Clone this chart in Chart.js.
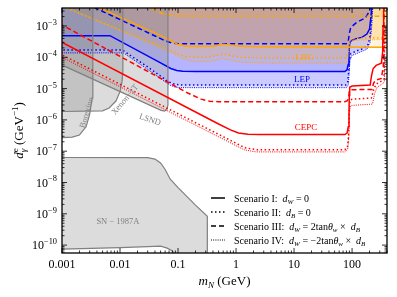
<!DOCTYPE html>
<html>
<head>
<meta charset="utf-8">
<script src="https://cdn.jsdelivr.net/npm/chart.js@4.4.1/dist/chart.umd.min.js"></script>
<style>
html, body { margin: 0; padding: 0; background: #fff; }
#wrap { width: 397px; height: 297px; }
</style>
</head>
<body>
<div id="wrap"><canvas id="Grafico" width="397" height="297"></canvas></div>
<script>
'use strict';
// axes: m_N (GeV) on x, d_gamma^e (GeV^-1) on y, both log
const X_MIN = 0.001, X_MAX = 400;
const Y_MIN = 5.6e-11, Y_MAX = 3.75e-3;
const xTickValues = [0.001, 0.01, 0.1, 1, 10, 100];
const xTickLabels = ['0.001', '0.01', '0.1', '1', '10', '100'];
const yTickPowers = [-10, -9, -8, -7, -6, -5, -4, -3];

// grey excluded regions
const borexinoX = [0.0009, 0.0015, 0.002, 0.0026, 0.003, 0.0033, 0.0034, 0.0034];
const borexinoY = [2.7e-7, 2.8e-7, 3.3e-7, 6e-7, 1.5e-6, 5e-6, 1.5e-5, 1e-2];
const xenonX = [0.0009, 0.005, 0.0065, 0.0085, 0.01, 0.0108, 0.0112, 0.0112];
const xenonY = [1.85e-6, 1.95e-6, 2.4e-6, 4e-6, 8e-6, 1.6e-5, 3.5e-5, 1e-2];
const lsndX = [0.0009, 0.05, 0.058, 0.064, 0.067, 0.067];
const lsndY = [6.2e-5, 2.05e-6, 1.9e-6, 2.1e-6, 3e-6, 1e-2];
const snX = [0.0009, 0.03, 0.04, 0.05, 0.06, 0.073, 0.1, 0.2, 0.32, 0.32, 0.1, 0.08, 0.065, 0.05, 0.03, 0.01, 0.0009];
const snY = [6.3e-8, 6.2e-8, 5.6e-8, 4.2e-8, 2.6e-8, 1.3e-8, 6.9e-9, 1.9e-9, 8.3e-10, 1e-11, 3e-11, 6.5e-11, 8e-11, 9.3e-11, 9e-11, 8.3e-11, 7.4e-11];

// LEP (blue), scenarios I..IV
const lepIX = [0.0009, 0.0067, 0.05, 0.075, 0.095, 0.12, 0.2, 75, 82, 86, 88.5, 90.5, 95, 110, 150, 180, 200, 212, 222];
const lepIY = [4.9e-4, 4.9e-4, 6.6e-5, 4.4e-5, 3.8e-5, 3.6e-5, 3.5e-5, 3.5e-5, 4e-5, 6e-5, 1.3e-4, 2.6e-4, 3.3e-4, 3.8e-4, 4.4e-4, 5.5e-4, 8e-4, 2e-3, 8e-3];
const lepIIX = [0.0009, 0.011, 0.03, 0.05, 0.07, 0.09, 0.12, 78, 84, 87.5, 90, 95, 120, 160, 190, 205, 215, 225];
const lepIIY = [1.7e-4, 1.7e-4, 4.9e-5, 2.5e-5, 1.6e-5, 1.35e-5, 1.3e-5, 1.3e-5, 1.6e-5, 3.5e-5, 8e-5, 1.3e-4, 1.6e-4, 1.9e-4, 2.6e-4, 5e-4, 1.5e-3, 6e-3];
const lepIIIX = [0.002, 0.0045, 0.04, 0.06, 0.08, 0.1, 0.15, 80, 86, 90, 95, 120, 170, 200, 215];
const lepIIIY = [6.5e-3, 3.2e-3, 4.8e-4, 3.35e-4, 2.85e-4, 2.72e-4, 2.7e-4, 2.7e-4, 3.2e-4, 6e-4, 9e-4, 1.3e-3, 1.8e-3, 3e-3, 8e-3];
const lepIVX = [0.0009, 0.0115, 0.03, 0.05, 0.07, 0.09, 0.12, 80, 86, 89, 92, 100, 130, 180, 205, 218, 230];
const lepIVY = [1.38e-4, 1.38e-4, 4.1e-5, 2.1e-5, 1.33e-5, 1.1e-5, 1.07e-5, 1.07e-5, 1.3e-5, 3e-5, 8e-5, 1.15e-4, 1.4e-4, 1.8e-4, 3e-4, 1e-3, 5e-3];

// LHC (orange)
const lhcIX = [0.002, 0.0045, 0.05, 0.08, 0.1, 0.14, 0.2, 0.4, 0.6, 1.0, 1.5, 3, 400];
const lhcIY = [7.3e-3, 3.7e-3, 4.9e-4, 3.2e-4, 2.55e-4, 2.25e-4, 2.2e-4, 2.25e-4, 2.6e-4, 2.35e-4, 2.2e-4, 2.15e-4, 2.1e-4];
const lhcIIX = [0.0012, 0.0015, 0.03, 0.073, 0.1, 0.13, 0.3, 0.6, 1.2, 3, 80, 86, 90, 95, 150, 400];
const lhcIIY = [3.66e-3, 3.1e-3, 3.3e-4, 1.68e-4, 1.25e-4, 1.05e-4, 1.0e-4, 1.25e-4, 1.0e-4, 9.5e-5, 9.5e-5, 1.4e-4, 3e-4, 3.9e-4, 4.1e-4, 4.2e-4];
const lhcIIIX = [0.02, 0.04, 0.06, 0.09, 0.2, 400];
const lhcIIIY = [6e-3, 3.2e-3, 2.3e-3, 2.1e-3, 2.05e-3, 2.05e-3];
const lhcIVX = [0.0015, 0.002, 0.03, 0.08, 0.12, 0.18, 0.35, 0.6, 1.2, 3, 80, 86, 90, 95, 150, 400];
const lhcIVY = [3.26e-3, 2.6e-3, 3e-4, 1.36e-4, 9e-5, 7.4e-5, 7.2e-5, 9e-5, 7e-5, 6.5e-5, 6.5e-5, 1e-4, 2.5e-4, 3.4e-4, 3.6e-4, 3.7e-4];

// CEPC (red)
const cepcIX = [0.0009, 0.5, 0.8, 1.1, 1.6, 2.5, 75, 82, 86, 88.5, 89.5, 91, 100, 205, 215, 230, 260, 320, 337, 342, 350];
const cepcIY = [3.33e-4, 7.4e-7, 4.8e-7, 3.8e-7, 3.45e-7, 3.4e-7, 3.4e-7, 3.8e-7, 6e-7, 1.5e-6, 6e-6, 1.1e-5, 1.2e-5, 1.3e-5, 2.4e-5, 4.3e-5, 5.5e-5, 6.5e-5, 1.5e-4, 1e-3, 8e-3];
const cepcIIX = [0.0009, 1.0, 1.4, 2.2, 75, 83, 87, 89.5, 92, 100, 215, 235, 260, 300, 355, 365];
const cepcIIY = [1.32e-4, 1.8e-7, 1.3e-7, 1.12e-7, 1.12e-7, 1.3e-7, 3e-7, 2e-6, 4.2e-6, 4.6e-6, 5e-6, 9e-6, 1.4e-5, 1.6e-5, 2e-5, 1e-3];
const cepcIIIX = [0.0009, 0.15, 0.25, 0.35, 0.5, 75, 83, 87, 89.5, 92, 100, 220, 235, 260, 320, 345, 352, 360];
const cepcIIIY = [1.19e-3, 7.1e-6, 4.6e-6, 3.95e-6, 3.8e-6, 3.8e-6, 4.1e-6, 5e-6, 8e-6, 9e-6, 9.2e-6, 9.4e-6, 1.5e-5, 1.9e-5, 2.1e-5, 5e-5, 1e-3, 8e-3];
const cepcIVX = [0.0009, 1.0, 1.4, 2.2, 75, 84, 88, 90, 93, 100, 225, 245, 270, 310, 360, 372];
const cepcIVY = [1.1e-4, 1.5e-7, 1.1e-7, 9.5e-8, 9.5e-8, 1.15e-7, 3e-7, 1.5e-6, 2.7e-6, 2.9e-6, 3.2e-6, 7e-6, 1.1e-5, 1.3e-5, 1.6e-5, 1e-3];

const SERIF = '"Liberation Serif", "DejaVu Serif", serif';
const BLUE = '#0000ff', RED = '#ff0000', ORANGE = '#ffa500', GREY = '#808080';
const BLUE_FILL = 'rgba(0,0,255,0.11)';
const ORANGE_FILL = 'rgba(255,165,0,0.12)';
const GREY_FILL = 'rgba(128,128,128,0.28)';

const STYLES = {
  I: { w: 1.5, dash: [] },
  II: { w: 1.5, dash: [1.5, 2.5] },
  III: { w: 1.5, dash: [5, 3] },
  IV: { w: 1.0, dash: [1, 1.2] }
};

function pts(xs, ys) { return xs.map((v, i) => ({ x: v, y: ys[i] })); }

// higher order = drawn earlier (blue fills first, then orange, then grey)
function lineSet(xs, ys, color, style, fillColor, order) {
  const st = STYLES[style];
  return {
    data: pts(xs, ys),
    borderColor: color,
    borderWidth: st.w,
    borderDash: st.dash,
    backgroundColor: fillColor || 'transparent',
    fill: fillColor ? 'end' : false,
    pointRadius: 0,
    tension: 0,
    clip: 0,
    order: order
  };
}

function regionSet(xs, ys, fillMode, order) {
  return {
    data: pts(xs, ys),
    borderColor: GREY,
    borderWidth: 1.2,
    backgroundColor: GREY_FILL,
    fill: fillMode,
    pointRadius: 0,
    tension: 0,
    clip: 0,
    order: order
  };
}

// text helpers
function N(t) { return { t: t }; }
function It(t) { return { t: t, it: true }; }
function Sub(t, noAdv) { return { t: t, it: true, sh: -1, noAdv: !!noAdv }; }
function Sup(t) { return { t: t, sh: 1 }; }
function fontOf(size, it) { return (it ? 'italic ' : '') + size + 'px ' + SERIF; }
function richWidth(ctx, parts, size) {
  let w = 0;
  for (const p of parts) {
    ctx.font = fontOf(p.sh ? size * 0.7 : size, p.it);
    if (!p.noAdv) w += ctx.measureText(p.t).width;
  }
  return w;
}
function drawRich(ctx, parts, x, y, size, align) {
  const w = richWidth(ctx, parts, size);
  let cx = align === 'center' ? x - w / 2 : align === 'right' ? x - w : x;
  ctx.textAlign = 'left';
  ctx.textBaseline = 'alphabetic';
  for (const p of parts) {
    ctx.font = fontOf(p.sh ? size * 0.7 : size, p.it);
    const dy = p.sh === -1 ? size * 0.25 : p.sh === 1 ? -size * 0.42 : 0;
    ctx.fillText(p.t, cx, y + dy);
    if (!p.noAdv) cx += ctx.measureText(p.t).width;
  }
}

const legendItems = [
  { style: 'I', parts: [N('Scenario I:  '), It('d'), Sub('W'), N(' = 0')] },
  { style: 'II', parts: [N('Scenario II:  '), It('d'), Sub('B'), N(' = 0')] },
  { style: 'III', parts: [N('Scenario III:  '), It('d'), Sub('W'), N(' = 2tan'), It('θ'), Sub('w'), N(' ×  '), It('d'), Sub('B')] },
  { style: 'IV', parts: [N('Scenario IV:  '), It('d'), Sub('W'), N(' = −2tan'), It('θ'), Sub('w'), N(' ×  '), It('d'), Sub('B')] }
];

const annotations = [
  { text: 'LHC', x: 15, y: 1.0e-4, color: ORANGE, angle: 0, size: 9 },
  { text: 'LEP', x: 13.7, y: 1.9e-5, color: BLUE, angle: 0, size: 9 },
  { text: 'CEPC', x: 16, y: 5.6e-7, color: RED, angle: 0, size: 9 },
  { text: 'LSND', x: 0.033, y: 1.0e-6, color: GREY, angle: 18, size: 8.5 },
  { text: 'Xenon−1T', x: 0.0122, y: 4.4e-6, color: GREY, angle: -50, size: 8.5 },
  { text: 'Borexino', x: 0.0027, y: 1.7e-6, color: GREY, angle: -73, size: 8.5 },
  { text: 'SN − 1987A', x: 0.0092, y: 5.7e-10, color: GREY, angle: 0, size: 8.5 }
];

const decor = {
  id: 'decor',
  afterDraw(chart) {
    const { ctx, chartArea: a, scales: { x, y } } = chart;
    ctx.save();
    // annotations
    for (const an of annotations) {
      ctx.save();
      ctx.translate(x.getPixelForValue(an.x), y.getPixelForValue(an.y));
      ctx.rotate(an.angle * Math.PI / 180);
      ctx.fillStyle = an.color;
      ctx.font = an.size + 'px ' + SERIF;
      ctx.textAlign = 'center';
      ctx.textBaseline = 'middle';
      ctx.fillText(an.text, 0, 0);
      ctx.restore();
    }
    // legend
    legendItems.forEach((it, i) => {
      const ly = 198 + i * 14;
      const st = STYLES[it.style];
      ctx.strokeStyle = '#000';
      ctx.lineWidth = st.w;
      ctx.setLineDash(st.dash);
      ctx.beginPath();
      ctx.moveTo(211, ly);
      ctx.lineTo(225, ly);
      ctx.stroke();
      ctx.setLineDash([]);
      ctx.fillStyle = '#000';
      drawRich(ctx, it.parts, 234, ly + 3.5, 10, 'left');
    });
    // ticks, inward on all sides
    ctx.strokeStyle = '#000';
    ctx.lineWidth = 0.8;
    const tick = (x1, y1, x2, y2) => { ctx.beginPath(); ctx.moveTo(x1, y1); ctx.lineTo(x2, y2); ctx.stroke(); };
    for (let p = -3; p <= 2; p++) {
      for (let m = 1; m <= 9; m++) {
        const v = m * Math.pow(10, p);
        if (v < X_MIN * 0.999 || v > X_MAX) continue;
        const px = x.getPixelForValue(v);
        const len = m === 1 ? 5 : 2.5;
        tick(px, a.bottom, px, a.bottom - len);
        tick(px, a.top, px, a.top + len);
      }
    }
    for (let p = -11; p <= -3; p++) {
      for (let m = 1; m <= 9; m++) {
        const v = m * Math.pow(10, p);
        if (v < Y_MIN || v > Y_MAX) continue;
        const py = y.getPixelForValue(v);
        const len = m === 1 ? 5 : 2.5;
        tick(a.left, py, a.left + len, py);
        tick(a.right, py, a.right - len, py);
      }
    }
    ctx.lineWidth = 1.3;
    ctx.strokeRect(a.left, a.top, a.right - a.left, a.bottom - a.top);
    // tick labels
    ctx.fillStyle = '#000';
    ctx.font = '12px ' + SERIF;
    ctx.textAlign = 'center';
    ctx.textBaseline = 'alphabetic';
    xTickValues.forEach((v, i) => ctx.fillText(xTickLabels[i], x.getPixelForValue(v), a.bottom + 15));
    yTickPowers.forEach(p => {
      drawRich(ctx, [N('10'), Sup('−' + Math.abs(p))], a.left - 5, y.getPixelForValue(Math.pow(10, p)) + 4, 12, 'right');
    });
    // axis titles
    drawRich(ctx, [It('m'), Sub('N'), N(' (GeV)')], (a.left + a.right) / 2, 285, 13, 'center');
    ctx.save();
    ctx.translate(23, (a.top + a.bottom) / 2);
    ctx.rotate(-Math.PI / 2);
    drawRich(ctx, [It('d'), Sub('γ', true), Sup('e'), N(' (GeV'), Sup('−1'), N(')')], 0, 0, 13, 'center');
    ctx.restore();
    ctx.restore();
  }
};

const datasets = [
  lineSet(cepcIX, cepcIY, RED, 'I', null, 0),
  lineSet(cepcIIX, cepcIIY, RED, 'II', null, 0),
  lineSet(cepcIIIX, cepcIIIY, RED, 'III', null, 0),
  lineSet(cepcIVX, cepcIVY, RED, 'IV', null, 0),
  regionSet(borexinoX, borexinoY, 'end', 1),
  regionSet(xenonX, xenonY, 'end', 1),
  regionSet(lsndX, lsndY, 'end', 1),
  regionSet(snX, snY, 'shape', 1),
  lineSet(lhcIX, lhcIY, ORANGE, 'I', ORANGE_FILL, 2),
  lineSet(lhcIIX, lhcIIY, ORANGE, 'II', ORANGE_FILL, 2),
  lineSet(lhcIIIX, lhcIIIY, ORANGE, 'III', ORANGE_FILL, 2),
  lineSet(lhcIVX, lhcIVY, ORANGE, 'IV', ORANGE_FILL, 2),
  lineSet(lepIX, lepIY, BLUE, 'I', BLUE_FILL, 3),
  lineSet(lepIIX, lepIIY, BLUE, 'II', BLUE_FILL, 3),
  lineSet(lepIIIX, lepIIIY, BLUE, 'III', BLUE_FILL, 3),
  lineSet(lepIVX, lepIVY, BLUE, 'IV', BLUE_FILL, 3)
];

new Chart(document.getElementById('Grafico'), {
  type: 'line',
  data: { datasets: datasets },
  options: {
    responsive: false,
    animation: false,
    devicePixelRatio: 1,
    layout: { padding: { left: 62, right: 10, top: 8, bottom: 44 } },
    scales: {
      x: { type: 'logarithmic', min: X_MIN, max: X_MAX, display: false },
      y: { type: 'logarithmic', min: Y_MIN, max: Y_MAX, display: false }
    },
    plugins: {
      legend: { display: false },
      tooltip: { enabled: false },
      filler: { drawTime: 'beforeDatasetsDraw' }
    }
  },
  plugins: [decor]
});
</script>
</body>
</html>
